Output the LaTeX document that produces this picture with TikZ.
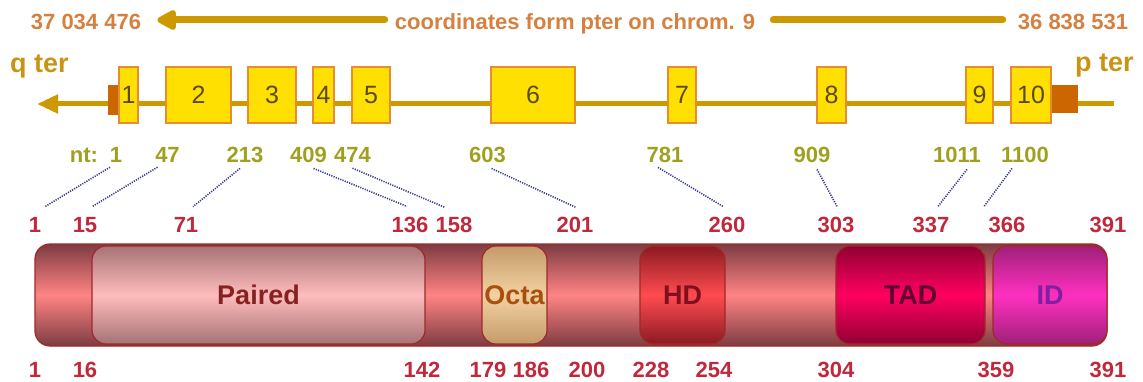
\documentclass[tikz,border=0pt]{standalone}
\usepackage{fontspec}
\setmainfont{Liberation Sans}
\usetikzlibrary{arrows.meta,calc}

\definecolor{gold}{RGB}{204,153,0}
\definecolor{terncol}{RGB}{200,148,20}
\definecolor{exfill}{RGB}{255,224,0}
\definecolor{exdraw}{RGB}{232,140,50}
\definecolor{exnum}{RGB}{90,74,16}
\definecolor{utr}{RGB}{204,102,0}
\definecolor{topnum}{RGB}{214,128,64}
\definecolor{ntcol}{RGB}{160,160,32}
\definecolor{aacol}{RGB}{192,40,60}
\definecolor{dotcol}{RGB}{60,60,150}
\definecolor{barline}{RGB}{160,40,40}
\definecolor{bardark}{RGB}{125,60,66}
\definecolor{barmid}{RGB}{255,132,132}
\definecolor{pairdark}{RGB}{165,115,118}
\definecolor{pairmid}{RGB}{255,188,188}
\definecolor{octadark}{RGB}{196,156,108}
\definecolor{octamid}{RGB}{244,208,160}
\definecolor{hddark}{RGB}{140,26,34}
\definecolor{hdmid}{RGB}{255,76,80}
\definecolor{taddark}{RGB}{144,0,50}
\definecolor{tadmid}{RGB}{255,0,96}
\definecolor{iddark}{RGB}{160,32,122}
\definecolor{idmid}{RGB}{255,48,192}

\begin{document}
\begin{tikzpicture}[x=1pt,y=-1pt,
  toptxt/.style={inner sep=0pt,anchor=base,text height=20pt,text depth=0pt,
    font=\bfseries\fontsize{22}{22}\selectfont},
  goldline/.style={draw=gold,line width=7pt,line cap=round},
  terlbl/.style={inner sep=0pt,anchor=base west,text=terncol,
    font=\bfseries\fontsize{27}{27}\selectfont},
  exon/.style={draw=exdraw,line width=1.5pt,fill=exfill,minimum height=56pt,
    inner sep=0pt,text=exnum,font=\fontsize{25}{25}\selectfont},
  utrbox/.style={fill=utr,inner sep=0pt},
  lbl/.style={inner sep=1pt,anchor=base,font=\bfseries\fontsize{22}{22}\selectfont},
  ntlbl/.style={lbl,text=ntcol},
  aalbl/.style={lbl,text=aacol},
  dots/.style={draw=dotcol,line width=1.6pt,dash pattern=on 1.2pt off 1.2pt},
  protdom/.style={draw=barline,line width=1.2pt,rounded corners=14pt,
    minimum height=98pt,inner sep=0pt,font=\bfseries\fontsize{27}{27}\selectfont},
]
\useasboundingbox (0,0) rectangle (1143,382);

% ---- chromosome coordinates ----
\node[toptxt,text=topnum] (cq) at (86,30) {37 034 476};
\node[toptxt,text=topnum] (cmid) at (575,30) {coordinates form pter on chrom. 9};
\node[toptxt,text=topnum] (cp) at (1073,30) {36 838 531};
\draw[goldline,-{Triangle[length=22pt,width=22pt,round]}]
  ([xshift=-10pt]cmid.west) -- ([xshift=16pt]cq.east);
\draw[goldline] ([xshift=18pt]cmid.east) -- ([xshift=-15pt]cp.west);

% ---- gene ----
\node[terlbl] (qter) at (10,73) {q ter};
\node[terlbl] (pter) at (1075,72) {p ter};
\coordinate (gend) at (1114,104);
\coordinate (gtip) at (37,104);
\draw[draw=gold,line width=5pt,-{Triangle[length=21pt,width=18pt]}] (gend) -- (gtip);

\node[utrbox,minimum width=12pt,minimum height=30pt] (u5) at (114,100) {};
\node[utrbox,minimum width=27pt,minimum height=28pt] (u3) at (1064.5,99) {};

\node[exon,minimum width=19pt] (e1) at (128.5,95) {1};
\node[exon,minimum width=65pt] (e2) at (198.5,95) {2};
\node[exon,minimum width=48pt] (e3) at (272,95) {3};
\node[exon,minimum width=21pt] (e4) at (323.5,95) {4};
\node[exon,minimum width=38pt] (e5) at (371,95) {5};
\node[exon,minimum width=84pt] (e6) at (533,95) {6};
\node[exon,minimum width=28pt] (e7) at (682,95) {7};
\node[exon,minimum width=29pt] (e8) at (831.5,95) {8};
\node[exon,minimum width=27pt] (e9) at (979.5,95) {9};
\node[exon,minimum width=40pt] (e10) at (1031,95) {10};

% ---- nucleotide positions ----
\node[ntlbl] (ntlab) at (84,163) {nt:};
\node[ntlbl] (n1) at (116,163) {1};
\node[ntlbl] (n47) at (167.5,163) {47};
\node[ntlbl] (n213) at (245,163) {213};
\node[ntlbl] (n409) at (308.5,163) {409};
\node[ntlbl] (n474) at (352.5,163) {474};
\node[ntlbl] (n603) at (487.5,163) {603};
\node[ntlbl] (n781) at (665,163) {781};
\node[ntlbl] (n909) at (812,163) {909};
\node[ntlbl] (n1011) at (957,163) {1011};
\node[ntlbl] (n1100) at (1025,163) {1100};

% ---- amino-acid positions (exon borders) ----
\node[aalbl] (a1) at (35,233) {1};
\node[aalbl] (a15) at (85,233) {15};
\node[aalbl] (a71) at (186,233) {71};
\node[aalbl] (a136) at (410,233) {136};
\node[aalbl] (a158) at (454,233) {158};
\node[aalbl] (a201) at (575,233) {201};
\node[aalbl] (a260) at (727,233) {260};
\node[aalbl] (a303) at (836,233) {303};
\node[aalbl] (a337) at (931,233) {337};
\node[aalbl] (a366) at (1007,233) {366};
\node[aalbl] (a391) at (1108,233) {391};

\draw[dots] ($(n1.south)+(-6,3)$) -- ($(a1.north)+(10,-10)$);
\draw[dots] ($(n47.south)+(-10,3)$) -- ($(a15.north)+(7,-10)$);
\draw[dots] ($(n213.south)+(-5,4)$) -- ($(a71.north)+(7,-10)$);
\draw[dots] ($(n409.south)+(5,4)$) -- ($(a136.north)+(-3,-10)$);
\draw[dots] ($(n474.south)+(0,4)$) -- ($(a158.north)+(-9,-9)$);
\draw[dots] ($(n603.south)+(4,4)$) -- ($(a201.north)+(1,-9)$);
\draw[dots] ($(n781.south)+(-7,3)$) -- ($(a260.north)+(-4,-10)$);
\draw[dots] ($(n909.south)+(5,5)$) -- ($(a303.north)+(1,-10)$);
\draw[dots] ($(n1011.south)+(10,5)$) -- ($(a337.north)+(7,-10)$);
\draw[dots] ($(n1100.south)+(-13,4)$) -- ($(a366.north)+(-23,-10)$);

% ---- protein ----
\node[protdom,rounded corners=15pt,minimum width=1072pt,minimum height=102pt,
  top color=bardark,bottom color=bardark,middle color=barmid] (bar) at (571,295) {};
\node[protdom,minimum width=333pt,top color=pairdark,bottom color=pairdark,
  middle color=pairmid,text=barline!85!black] (paired) at (258.5,295) {Paired};
\node[protdom,minimum width=65pt,top color=octadark,bottom color=octadark,
  middle color=octamid,text={rgb,255:red,168;green,80;blue,16}] (octa) at (514.5,295) {Octa};
\node[protdom,minimum width=85pt,top color=hddark,bottom color=hddark,
  middle color=hdmid,text={rgb,255:red,128;green,16;blue,32}] (hd) at (682.5,295) {HD};
\node[protdom,minimum width=149pt,top color=taddark,bottom color=taddark,
  middle color=tadmid,text={rgb,255:red,96;green,0;blue,48}] (tad) at (910.5,295) {TAD};
\node[protdom,minimum width=114pt,top color=iddark,bottom color=iddark,
  middle color=idmid,text={rgb,255:red,128;green,32;blue,160}] (id) at (1050,295) {ID};

% ---- amino-acid positions (domain borders) ----
\node[aalbl] (b1) at (35,377) {1};
\node[aalbl] (b16) at (85,377) {16};
\node[aalbl] (b142) at (422,377) {142};
\node[aalbl] (b179) at (488,377) {179};
\node[aalbl] (b186) at (531,377) {186};
\node[aalbl] (b200) at (587,377) {200};
\node[aalbl] (b228) at (651,377) {228};
\node[aalbl] (b254) at (714,377) {254};
\node[aalbl] (b304) at (836,377) {304};
\node[aalbl] (b359) at (996,377) {359};
\node[aalbl] (b391) at (1108,377) {391};
\end{tikzpicture}
\end{document}
